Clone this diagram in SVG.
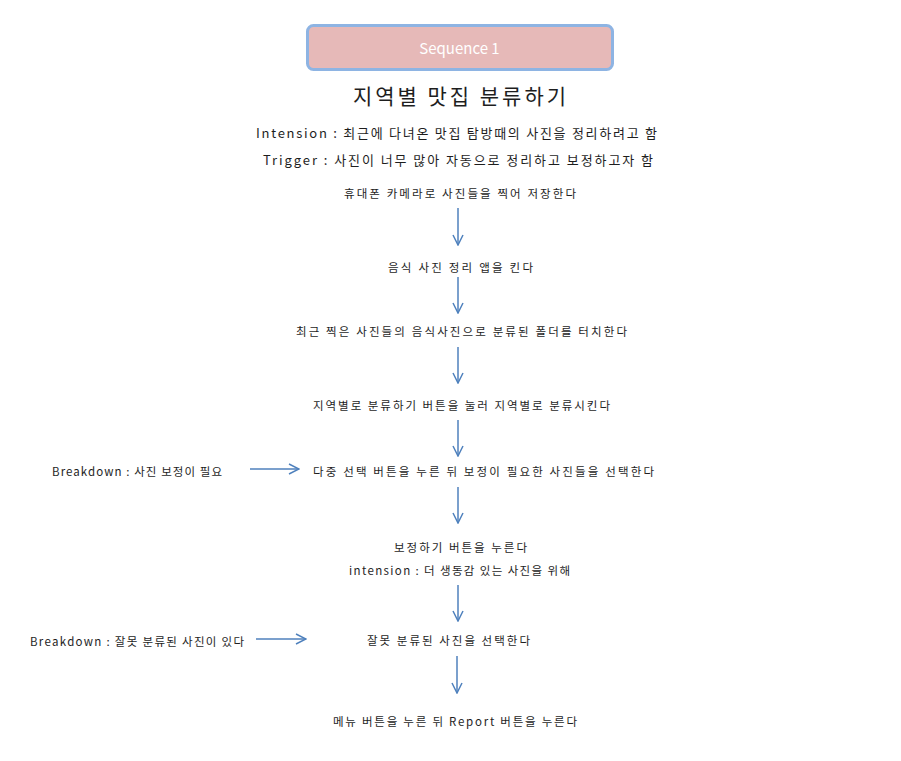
<svg xmlns="http://www.w3.org/2000/svg" width="901" height="761" viewBox="0 0 901 761">
<style>
text{font-family:"Noto Sans CJK KR","Noto Sans",sans-serif;fill:#1e1e1e;}
.s{font-size:11.5px;}
.m{font-size:13px;}
.c{stroke:#4f81bd;stroke-width:1.5;fill:none;}
</style>
<defs>
<marker id="ah" viewBox="0 0 12 12" refX="11" refY="6" markerWidth="12" markerHeight="12" markerUnits="userSpaceOnUse" orient="auto">
<path d="M1,1 L11,6 L1,11" fill="none" stroke="#4f81bd" stroke-width="1.5"/>
</marker>
</defs>
<rect width="901" height="761" fill="#ffffff"/>
<g id="seq">
<rect x="307.5" y="25.5" width="305" height="44" rx="6" fill="#e6b9b8" stroke="#8eb4e3" stroke-width="3"/>
<text x="459.5" y="54" text-anchor="middle" style="font-size:15px;fill:#ffffff">Sequence 1</text>
</g>
<g id="title"><text x="353" y="104" textLength="213" lengthAdjust="spacing" style="font-size:21px">지역별 맛집 분류하기</text></g>
<g id="intension"><text x="256" y="138" textLength="401" lengthAdjust="spacing" class="m">Intension : 최근에 다녀온 맛집 탐방때의 사진을 정리하려고 함</text></g>
<g id="trigger"><text x="263" y="165" textLength="390" lengthAdjust="spacing" class="m">Trigger : 사진이 너무 많아 자동으로 정리하고 보정하고자 함</text></g>
<g id="step1"><text x="344" y="198" textLength="232" lengthAdjust="spacing" class="s">휴대폰 카메라로 사진들을 찍어 저장한다</text></g>
<g id="step2"><text x="388" y="272" textLength="145" lengthAdjust="spacing" class="s">음식 사진 정리 앱을 킨다</text></g>
<g id="step3"><text x="296" y="336" textLength="331" lengthAdjust="spacing" class="s">최근 찍은 사진들의 음식사진으로 분류된 폴더를 터치한다</text></g>
<g id="step4"><text x="313" y="410" textLength="297" lengthAdjust="spacing" class="s">지역별로 분류하기 버튼을 눌러 지역별로 분류시킨다</text></g>
<g id="breakdown1"><text x="52" y="476" textLength="170" lengthAdjust="spacing" class="s">Breakdown : 사진 보정이 필요</text></g>
<g id="step5"><text x="313" y="476" textLength="341" lengthAdjust="spacing" class="s">다중 선택 버튼을 누른 뒤 보정이 필요한 사진들을 선택한다</text></g>
<g id="step6">
<text x="394" y="552" textLength="133" lengthAdjust="spacing" class="s">보정하기 버튼을 누른다</text>
<text x="349" y="575" textLength="221" lengthAdjust="spacing" class="s">intension : 더 생동감 있는 사진을 위해</text>
</g>
<g id="breakdown2"><text x="30" y="646" textLength="214" lengthAdjust="spacing" class="s">Breakdown : 잘못 분류된 사진이 있다</text></g>
<g id="step7"><text x="367" y="645" textLength="163" lengthAdjust="spacing" class="s">잘못 분류된 사진을 선택한다</text></g>
<g id="step8"><text x="333" y="726" textLength="244" lengthAdjust="spacing" class="s">메뉴 버튼을 누른 뒤 Report 버튼을 누른다</text></g>
<g id="connectors">
<line class="c" x1="458" y1="208" x2="458" y2="245" marker-end="url(#ah)"/>
<line class="c" x1="458" y1="277" x2="458" y2="313" marker-end="url(#ah)"/>
<line class="c" x1="458" y1="347" x2="458" y2="383" marker-end="url(#ah)"/>
<line class="c" x1="458" y1="420" x2="458" y2="456" marker-end="url(#ah)"/>
<line class="c" x1="458" y1="487" x2="458" y2="523" marker-end="url(#ah)"/>
<line class="c" x1="458" y1="585" x2="458" y2="621" marker-end="url(#ah)"/>
<line class="c" x1="457" y1="656" x2="457" y2="693" marker-end="url(#ah)"/>
<line class="c" x1="250" y1="469" x2="299" y2="469" marker-end="url(#ah)"/>
<line class="c" x1="256" y1="639" x2="306" y2="639" marker-end="url(#ah)"/>
</g>
</svg>
